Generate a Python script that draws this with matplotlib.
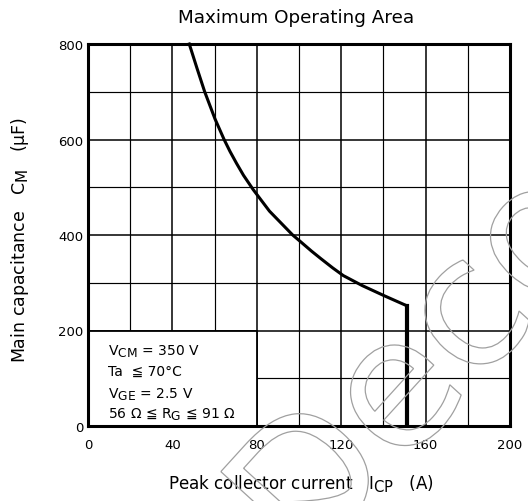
import matplotlib
matplotlib.use("Agg")
import matplotlib.pyplot as plt
import matplotlib._mathtext as mathtext_internals
from matplotlib.patches import Rectangle, PathPatch
from matplotlib.textpath import TextPath
from matplotlib.font_manager import FontProperties
from matplotlib.transforms import Affine2D

# Curve data (peak collector current vs main capacitance)
icp = [48, 51.6, 55.3, 60.2, 64.5, 67.3, 70.4, 73.7, 78.3, 86, 91.5, 97,
       101, 106, 110.5, 116, 121, 130, 140.3, 151, 151]
cm = [800, 750, 700, 643, 600, 575, 550, 525, 495, 450, 425, 400,
      385, 366, 350, 331, 315, 294, 273, 252, 0]

x_ticks = [0, 40, 80, 120, 160, 200]
y_ticks = [0, 200, 400, 600, 800]
x_grid = list(range(0, 201, 20))
y_grid = list(range(0, 801, 100))

conditions = [
    r"V$_{\rm CM}$ = 350 V",
    r"Ta  ≦ 70°C",
    r"V$_{\rm GE}$ = 2.5 V",
    r"56 Ω ≦ R$_{\rm G}$ ≦ 91 Ω",
]
cond_y = [149, 107, 59, 17]

plt.rcParams['font.family'] = ['DejaVu Sans']
# subscripts in the original are nearly full size
mathtext_internals.SHRINK_FACTOR = 0.88

fig = plt.figure(figsize=(5.28, 5.02), dpi=100)
ax = fig.add_axes([88 / 528, 1 - 427 / 502, 422 / 528, 382 / 502])

ax.set_xlim(0, 200)
ax.set_ylim(0, 800)
ax.set_xticks(x_ticks)
ax.set_yticks(y_ticks)
ax.set_xticks(x_grid, minor=True)
ax.set_yticks(y_grid, minor=True)
ax.tick_params(which='both', length=0)
ax.tick_params(axis='x', pad=9, labelsize=9.5)
ax.tick_params(axis='y', pad=3.5, labelsize=9.5)
ax.set_axisbelow(True)
ax.grid(which='major', color='black', lw=1.1)
ax.grid(which='minor', color='black', lw=0.85)
for s in ax.spines.values():
    s.set_linewidth(2.2)

# white panel holding the test conditions
ax.add_patch(Rectangle((0, 0), 80, 200, facecolor='white', edgecolor='black',
                       lw=1.3, zorder=1))
for t, yy in zip(conditions, cond_y):
    ax.text(9.5, yy, t, fontsize=10, va='baseline', ha='left', zorder=3)

# boundary curve
ax.plot(icp[:-1], cm[:-1], color='black', lw=2.2, solid_joinstyle='round',
        zorder=2, clip_on=False)
ax.plot(icp[-2:], cm[-2:], color='black', lw=3.0, zorder=2)

fig.text(296 / 528, 1 - 18 / 502, "Maximum Operating Area", fontsize=13.2,
         ha='center', va='center')
fig.text(301 / 528, 1 - 484 / 502,
         r"Peak collector current   I$_{\rm CP}$   (A)", fontsize=12.1,
         ha='center', va='center')
fig.text(20 / 528, 1 - 240 / 502,
         r"Main capacitance   C$_{\rm M}$   (µF)", fontsize=12.5,
         ha='center', va='center', rotation=90)

# faint outlined watermark
wm = TextPath((0, 0), "Deco", size=180, prop=FontProperties(family='DejaVu Sans'))
tr = Affine2D().rotate_deg(47.7).translate(306, -72)
fig.add_artist(PathPatch(wm, transform=tr, facecolor='none',
                         edgecolor='#a0a0a0', lw=0.9, zorder=5))

fig.savefig("out.png", dpi=100)
